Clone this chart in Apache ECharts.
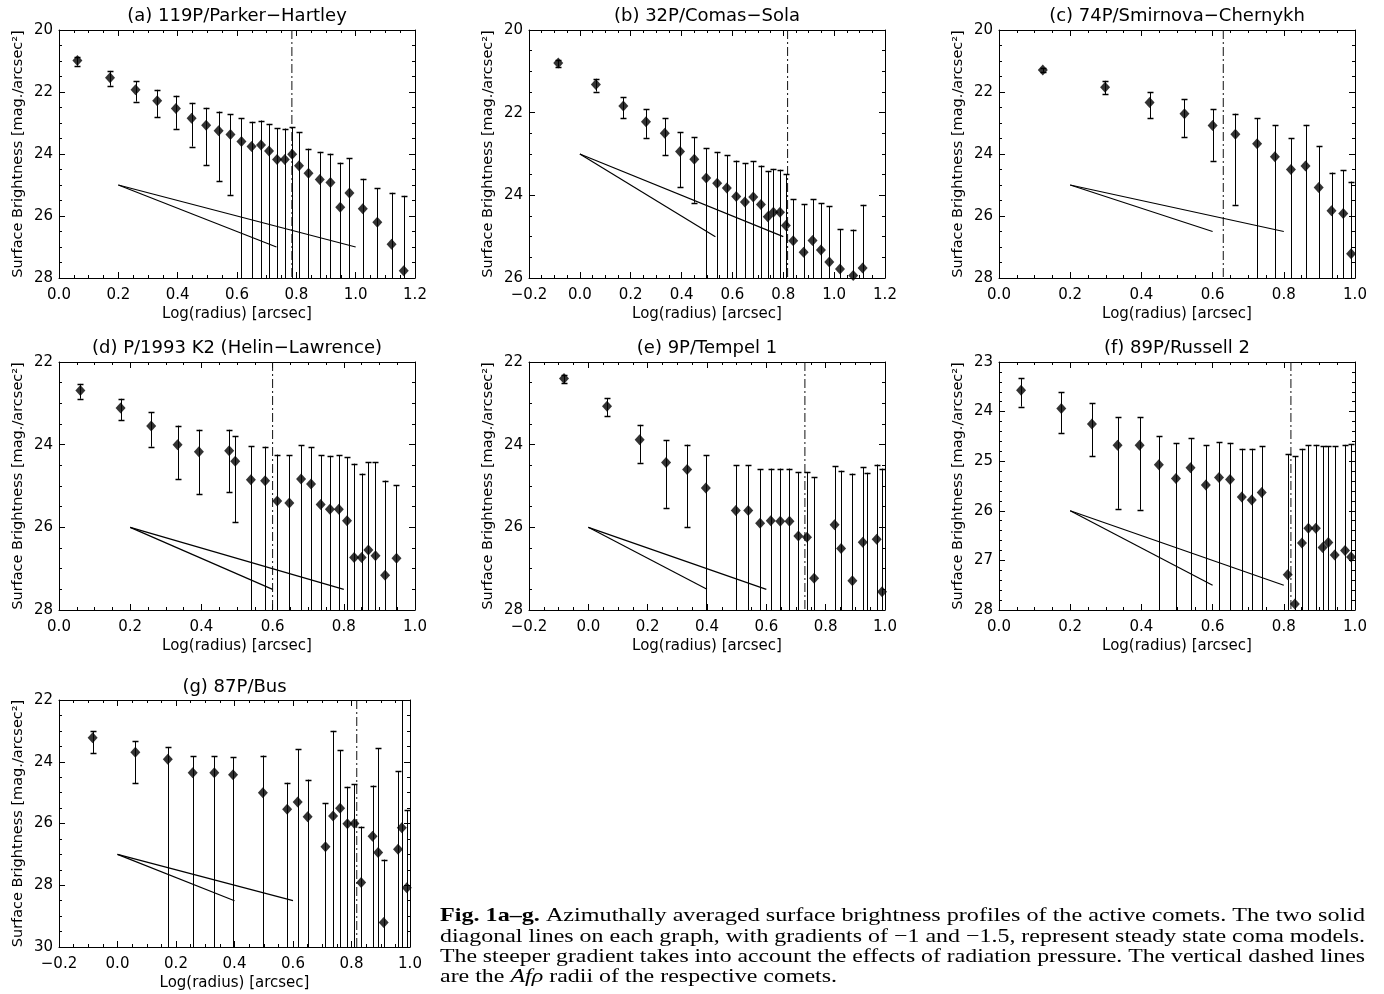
<!DOCTYPE html>
<html>
<head>
<meta charset="utf-8">
<script src="https://cdn.jsdelivr.net/npm/echarts@6/dist/echarts.min.js"></script>
<style>
html,body{margin:0;padding:0;background:#fff;}
#c{width:1384px;height:994px;}
</style>
</head>
<body>
<div id="c"></div>
<script>
// ---------------- DATA ----------------
// Panel (a) 119P/Parker-Hartley
const aTitle = '(a) 119P/Parker\u2212Hartley';
const aX  = [0.062,0.172,0.258,0.331,0.394,0.447,0.496,0.538,0.578,0.615,0.649,0.681,0.708,0.735,0.761,0.786,0.809,0.841,0.879,0.915,0.948,0.979,1.024,1.073,1.121,1.162];
const aY  = [20.98,21.54,21.93,22.28,22.53,22.85,23.07,23.25,23.37,23.60,23.76,23.71,23.90,24.18,24.18,24.01,24.38,24.62,24.82,24.92,25.72,25.26,25.77,26.20,26.91,27.77];
const aHi = [20.86,21.32,21.65,21.93,22.12,22.35,22.51,22.63,22.72,22.85,22.96,22.92,23.03,23.17,23.18,23.13,23.29,23.83,23.93,23.99,24.28,24.13,24.80,25.10,25.25,25.35];
const aLo = [21.15,21.80,22.31,22.81,23.19,23.76,24.36,24.87,25.32,null,null,null,null,null,null,null,null,null,null,null,null,null,null,null,null,null];
const aXTicks = [0.0,0.2,0.4,0.6,0.8,1.0,1.2];
const aYTicks = [20,22,24,26,28];
const aAfrho = 0.785;
const aModelStart = [0.2,25], aSteepEnd = [0.733,27], aShallowEnd = [1.0,27];

// Panel (b) 32P/Comas-Sola
const bTitle = '(b) 32P/Comas\u2212Sola';
const bX  = [-0.085,0.063,0.171,0.260,0.334,0.394,0.450,0.497,0.540,0.578,0.615,0.649,0.682,0.712,0.739,0.761,0.787,0.810,0.839,0.880,0.915,0.948,0.981,1.023,1.075,1.112];
const bY  = [20.80,21.32,21.84,22.22,22.50,22.94,23.13,23.58,23.71,23.82,24.03,24.16,24.04,24.22,24.52,24.41,24.41,24.73,25.10,25.38,25.09,25.32,25.61,25.78,25.94,25.76];
const bHi = [20.72,21.18,21.63,21.92,22.14,22.47,22.60,22.86,22.95,23.03,23.16,23.22,23.18,23.28,23.41,23.36,23.38,23.49,24.09,24.21,24.09,24.19,24.27,24.82,24.83,24.23];
const bLo = [20.89,21.49,22.13,22.61,23.03,23.81,24.18,null,null,null,null,null,null,null,null,null,null,null,null,null,null,null,null,null,null,null];
const bXTicks = [-0.2,0.0,0.2,0.4,0.6,0.8,1.0,1.2];
const bYTicks = [20,22,24,26];
const bAfrho = 0.817;
const bModelStart = [0.0,23], bSteepEnd = [0.533,25], bShallowEnd = [0.8,25];

// Panel (c) 74P/Smirnova-Chernykh
const cTitle = '(c) 74P/Smirnova\u2212Chernykh';
const cX  = [0.123,0.298,0.423,0.521,0.600,0.664,0.725,0.775,0.820,0.861,0.898,0.934,0.967,0.989];
const cY  = [21.29,21.85,22.34,22.70,23.08,23.36,23.67,24.09,24.50,24.39,25.08,25.83,25.92,27.22];
const cHi = [21.22,21.64,22.01,22.24,22.55,22.70,22.84,23.08,23.49,23.06,23.74,24.60,24.52,24.89];
const cLo = [21.35,22.07,22.85,23.45,24.22,25.64,null,null,null,null,null,null,null,null];
const cXTicks = [0.0,0.2,0.4,0.6,0.8,1.0];
const cYTicks = [20,22,24,26,28];
const cAfrho = 0.63;
const cModelStart = [0.2,25], cSteepEnd = [0.6,26.5], cShallowEnd = [0.8,26.5];

// Panel (d) P/1993 K2 (Helin-Lawrence)
const dTitle = '(d) P/1993 K2 (Helin\u2212Lawrence)';
const dX  = [0.060,0.173,0.259,0.333,0.393,0.478,0.495,0.539,0.579,0.613,0.647,0.680,0.708,0.735,0.761,0.786,0.809,0.829,0.850,0.869,0.889,0.916,0.948];
const dY  = [22.69,23.11,23.55,24.00,24.17,24.15,24.40,24.85,24.87,25.36,25.41,24.83,24.95,25.45,25.56,25.56,25.84,26.73,26.73,26.55,26.69,27.16,26.75];
const dHi = [22.53,22.89,23.22,23.54,23.64,23.64,23.79,24.04,24.05,24.24,24.25,24.01,24.06,24.25,24.27,24.25,24.30,24.46,24.70,24.42,24.42,24.87,24.98];
const dLo = [22.89,23.41,24.05,24.83,25.20,25.15,25.88,null,null,null,null,null,null,null,null,null,null,null,null,null,null,null,null];
const dXTicks = [0.0,0.2,0.4,0.6,0.8,1.0];
const dYTicks = [22,24,26,28];
const dAfrho = 0.60;
const dModelStart = [0.2,26], dSteepEnd = [0.6,27.5], dShallowEnd = [0.8,27.5];

// Panel (e) 9P/Tempel 1
const eTitle = '(e) 9P/Tempel 1';
const eX  = [-0.082,0.063,0.173,0.262,0.333,0.396,0.497,0.539,0.579,0.615,0.647,0.678,0.708,0.737,0.761,0.830,0.852,0.890,0.925,0.940,0.972,0.990];
const eY  = [22.40,23.07,23.88,24.43,24.60,25.05,25.59,25.59,25.90,25.84,25.85,25.85,26.21,26.24,27.23,25.94,26.51,27.29,26.36,28.40,26.29,27.56];
const eHi = [22.31,22.87,23.52,23.89,24.00,24.26,24.50,24.50,24.60,24.58,24.58,24.58,24.66,24.66,24.79,24.52,24.63,24.70,24.54,24.68,24.48,24.58];
const eLo = [22.52,23.31,24.44,25.53,26.00,null,null,null,null,null,null,null,null,null,null,null,null,null,null,null,null,null];
const eXTicks = [-0.2,0.0,0.2,0.4,0.6,0.8,1.0];
const eYTicks = [22,24,26,28];
const eAfrho = 0.73;
const eModelStart = [0.0,26], eSteepEnd = [0.4,27.5], eShallowEnd = [0.6,27.5];

// Panel (f) 89P/Russell 2
const fTitle = '(f) 89P/Russell 2';
const fX  = [0.062,0.175,0.261,0.333,0.395,0.449,0.497,0.538,0.581,0.618,0.649,0.682,0.710,0.738,0.811,0.831,0.851,0.869,0.890,0.909,0.925,0.943,0.972,0.989];
const fY  = [23.57,23.94,24.25,24.68,24.68,25.07,25.35,25.13,25.48,25.33,25.37,25.72,25.78,25.63,27.29,27.88,26.65,26.35,26.35,26.74,26.64,26.89,26.80,26.93];
const fHi = [23.33,23.61,23.83,24.11,24.11,24.50,24.64,24.54,24.68,24.62,24.63,24.75,24.75,24.70,24.86,24.90,24.75,24.68,24.67,24.70,24.70,24.70,24.67,24.66];
const fLo = [23.90,24.43,24.90,25.96,25.98,null,null,null,null,null,null,null,null,null,null,null,null,null,null,null,null,null,null,null];
const fXTicks = [0.0,0.2,0.4,0.6,0.8,1.0];
const fYTicks = [23,24,25,26,27,28];
const fAfrho = 0.82;
const fModelStart = [0.2,26], fSteepEnd = [0.6,27.5], fShallowEnd = [0.8,27.5];

// Panel (g) 87P/Bus
const gTitle = '(g) 87P/Bus';
const gX  = [-0.085,0.061,0.172,0.257,0.331,0.395,0.497,0.580,0.616,0.650,0.711,0.737,0.761,0.786,0.810,0.833,0.872,0.891,0.910,0.959,0.972,0.989];
const gY  = [23.22,23.69,23.92,24.36,24.36,24.42,25.00,25.54,25.30,25.78,26.75,25.76,25.51,26.01,26.00,27.91,26.41,26.94,29.21,26.83,26.14,28.08];
const gHi = [23.02,23.34,23.52,23.82,23.82,23.85,23.80,24.68,23.60,24.58,25.35,23.00,23.62,24.81,24.73,26.10,24.77,23.57,27.17,24.30,21.00,25.57];
const gLo = [23.73,24.70,null,null,null,null,null,null,null,null,null,null,null,null,null,null,null,null,null,null,null,null];
const gXTicks = [-0.2,0.0,0.2,0.4,0.6,0.8,1.0];
const gYTicks = [22,24,26,28,30];
const gAfrho = 0.818;
const gModelStart = [0.0,27], gSteepEnd = [0.4,28.5], gShallowEnd = [0.6,28.5];

const xName = 'Log(radius) [arcsec]';
const yName = 'Surface Brightness [mag./arcsec\u00B2]';

const captionLines = [
  [['b','Fig. 1a\u2013g.'],['n',' Azimuthally averaged surface brightness profiles of the active comets. The two solid']],
  [['n','diagonal lines on each graph, with gradients of \u22121 and \u22121.5, represent steady state coma models.']],
  [['n','The steeper gradient takes into account the effects of radiation pressure. The vertical dashed lines']],
  [['n','are the '],['i','Af\u03C1'],['n',' radii of the respective comets.']]
];

// ---------------- LAYOUT ----------------
const panels = [
  {title:aTitle,x:aX,y:aY,hi:aHi,lo:aLo,xt:aXTicks,yt:aYTicks,afrho:aAfrho,m0:aModelStart,m1:aSteepEnd,m2:aShallowEnd,box:[59,30,356,248],ty:16,yMinor:4},
  {title:bTitle,x:bX,y:bY,hi:bHi,lo:bLo,xt:bXTicks,yt:bYTicks,afrho:bAfrho,m0:bModelStart,m1:bSteepEnd,m2:bShallowEnd,box:[529,30,356,248],ty:16,yMinor:4},
  {title:cTitle,x:cX,y:cY,hi:cHi,lo:cLo,xt:cXTicks,yt:cYTicks,afrho:cAfrho,m0:cModelStart,m1:cSteepEnd,m2:cShallowEnd,box:[999,30,356,248],ty:16,yMinor:4},
  {title:dTitle,x:dX,y:dY,hi:dHi,lo:dLo,xt:dXTicks,yt:dYTicks,afrho:dAfrho,m0:dModelStart,m1:dSteepEnd,m2:dShallowEnd,box:[59,362,356,248],ty:348,yMinor:4},
  {title:eTitle,x:eX,y:eY,hi:eHi,lo:eLo,xt:eXTicks,yt:eYTicks,afrho:eAfrho,m0:eModelStart,m1:eSteepEnd,m2:eShallowEnd,box:[529,362,356,248],ty:348,yMinor:4},
  {title:fTitle,x:fX,y:fY,hi:fHi,lo:fLo,xt:fXTicks,yt:fYTicks,afrho:fAfrho,m0:fModelStart,m1:fSteepEnd,m2:fShallowEnd,box:[999,362,356,248],ty:348,yMinor:5},
  {title:gTitle,x:gX,y:gY,hi:gHi,lo:gLo,xt:gXTicks,yt:gYTicks,afrho:gAfrho,m0:gModelStart,m1:gSteepEnd,m2:gShallowEnd,box:[59,700,351,247],ty:687,yMinor:4}
];

const FONT = 'DejaVu Sans';
const INK = '#000';

function errRender(params, api) {
  const x = api.value(0), hi = api.value(1), lo = api.value(2);
  const cs = params.coordSys;
  const top = cs.y, bot = cs.y + cs.height;
  const pHi = api.coord([x, hi]);
  const px = Math.round(pHi[0]) + 0.5;
  const yHi = pHi[1];
  const loMissing = (lo === null || lo === undefined || isNaN(lo));
  const yLo = loMissing ? bot + 10 : api.coord([x, lo])[1];
  const clamp = v => Math.max(top, Math.min(bot, v));
  const children = [{
    type:'line', shape:{x1:px, y1:clamp(yHi), x2:px, y2:clamp(yLo)},
    style:{stroke:INK, lineWidth:1}
  }];
  const cap = 3;
  if (yHi >= top && yHi <= bot) {
    children.push({type:'line', shape:{x1:px-cap, y1:Math.round(yHi)+0.5, x2:px+cap, y2:Math.round(yHi)+0.5}, style:{stroke:INK, lineWidth:1.5}});
  }
  if (!loMissing && yLo >= top && yLo <= bot) {
    children.push({type:'line', shape:{x1:px-cap, y1:Math.round(yLo)+0.5, x2:px+cap, y2:Math.round(yLo)+0.5}, style:{stroke:INK, lineWidth:1.5}});
  }
  return {type:'group', children};
}

const fmtX = v => { const s = (Math.abs(v) < 1e-9 ? 0 : v).toFixed(1); return s.replace('-', '\u2212'); };
const fmtY = v => String(Math.round(v));

const grid = [], xAxis = [], yAxis = [], series = [], graphic = [];

panels.forEach((p, i) => {
  const [L, T, W, H] = p.box;
  grid.push({left:L, top:T, width:W, height:H, show:false});
  const xmin = p.xt[0], xmax = p.xt[p.xt.length-1], xint = +(p.xt[1]-p.xt[0]).toFixed(6);
  const ymin = p.yt[0], ymax = p.yt[p.yt.length-1], yint = p.yt[1]-p.yt[0];
  const common = {
    gridIndex:i, type:'value',
    axisLine:{show:true, onZero:false, lineStyle:{color:INK, width:1}},
    axisTick:{show:true, inside:true, length:6, lineStyle:{color:INK, width:1}},
    splitLine:{show:false}, minorSplitLine:{show:false}
  };
  ['bottom','top'].forEach(pos => {
    xAxis.push(Object.assign({}, common, {
      position:pos, min:xmin, max:xmax, interval:xint,
      minorTick:{show:true, splitNumber:4, length:3, lineStyle:{color:INK, width:1}},
      axisLabel:{show:pos==='bottom', color:INK, fontSize:15, fontFamily:FONT, margin:10, formatter:fmtX,
        showMinLabel:true, showMaxLabel:true},
      name: pos==='bottom' ? xName : '',
      nameLocation:'middle', nameGap:29,
      nameTextStyle:{color:INK, fontSize:15, fontFamily:FONT}
    }));
  });
  ['left','right'].forEach(pos => {
    yAxis.push(Object.assign({}, common, {
      position:pos, inverse:true, min:ymin, max:ymax, interval:yint,
      minorTick:{show:true, splitNumber:p.yMinor, length:3, lineStyle:{color:INK, width:1}},
      axisLabel:{show:pos==='left', color:INK, fontSize:15, fontFamily:FONT, margin:6, formatter:fmtY,
        showMinLabel:true, showMaxLabel:true},
      name: pos==='left' ? yName : '',
      nameLocation:'middle', nameGap:33,
      nameTextStyle:{color:INK, fontSize:14.5, fontFamily:FONT}
    }));
  });
  const xi = 2*i, yi = 2*i;
  // error bars
  series.push({
    type:'custom', xAxisIndex:xi, yAxisIndex:yi, silent:true, z:2,
    renderItem:errRender,
    encode:{x:0, y:1},
    data:p.x.map((v,k) => [v, p.hi[k], p.lo[k] === null ? NaN : p.lo[k]])
  });
  // data points
  series.push({
    type:'scatter', xAxisIndex:xi, yAxisIndex:yi, silent:true, z:3, clip:true,
    symbol:'diamond', symbolSize:[10,11],
    itemStyle:{color:INK},
    data:p.x.map((v,k) => [v, p.y[k]])
  });
  // steady-state coma model lines
  [p.m1, p.m2].forEach(end => {
    series.push({
      type:'line', xAxisIndex:xi, yAxisIndex:yi, silent:true, z:2, clip:true,
      symbol:'none', lineStyle:{color:INK, width:1.2},
      data:[p.m0, end]
    });
  });
  // Afrho radius
  series.push({
    type:'line', xAxisIndex:xi, yAxisIndex:yi, silent:true, z:1,
    symbol:'none', lineStyle:{color:'#111', width:1, type:[9,3,2,3]},
    data:[[p.afrho, ymin],[p.afrho, ymax]]
  });
  // title
  graphic.push({
    type:'text', x:L + W/2, y:p.ty, silent:true,
    style:{text:p.title, fill:INK, font:'18px "' + FONT + '"', textAlign:'center', textVerticalAlign:'middle'}
  });
});

// ---------------- CAPTION ----------------
const capLeft = 440, capRight = 1365, capSize = 19;
const capYs = [916, 937, 957, 977];
const capFamily = '"Liberation Serif", "Times New Roman", serif';
const meas = document.createElement('canvas').getContext('2d');
const fontFor = s => (s === 'b' ? 'bold ' : s === 'i' ? 'italic ' : '') + capSize + 'px ' + capFamily;
const widths = captionLines.map(line => line.reduce((acc, [s, t]) => { meas.font = fontFor(s); return acc + meas.measureText(t).width; }, 0));
const scales = widths.map(w => (capRight - capLeft) / w);
const avgScale = (scales[0] + scales[1] + scales[2]) / 3;
captionLines.forEach((line, k) => {
  const text = line.map(([s, t]) => '{' + s + '|' + t + '}').join('');
  graphic.push({
    type:'text', x:capLeft, y:capYs[k], silent:true,
    scaleX: k < 3 ? scales[k] : avgScale,
    style:{
      text, textVerticalAlign:'middle', textAlign:'left',
      rich:{
        b:{fontFamily:capFamily, fontSize:capSize, fontWeight:'bold', fill:INK, color:INK},
        n:{fontFamily:capFamily, fontSize:capSize, fill:INK, color:INK},
        i:{fontFamily:capFamily, fontSize:capSize, fontStyle:'italic', fill:INK, color:INK}
      }
    }
  });
});

const chart = echarts.init(document.getElementById('c'), null, {renderer:'canvas', width:1384, height:994});
chart.setOption({
  backgroundColor:'#fff',
  animation:false,
  grid, xAxis, yAxis, series, graphic
});
</script>
</body>
</html>
